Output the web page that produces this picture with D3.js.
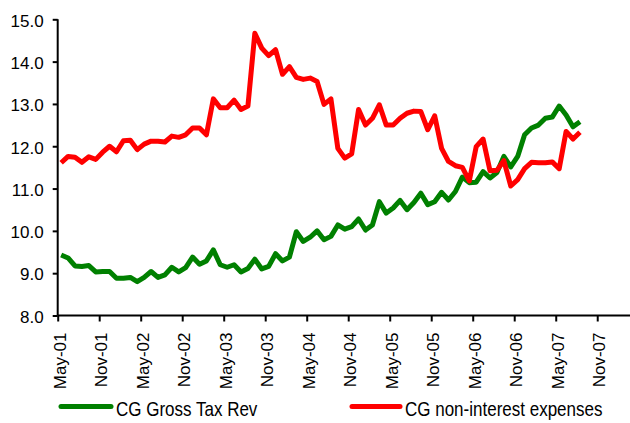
<!DOCTYPE html>
<html>
<head>
<meta charset="utf-8">
<script src="https://cdn.jsdelivr.net/npm/d3@7"></script>
<style>
  html, body { margin: 0; padding: 0; background: #fff; }
  svg { display: block; }
  text { font-family: "Liberation Sans", Arial, sans-serif; fill: #000; }
</style>
</head>
<body>
<svg id="chart" width="630" height="423"></svg>
<script>
// Monthly series, May-01 through Aug-07 (% of GDP, 12-month rolling)
const startMonth = new Date(2001, 4, 1);
const taxRev = [
  9.43, 9.36, 9.17, 9.16, 9.18, 9.03, 9.04, 9.04, 8.88, 8.88, 8.90, 8.80,
  8.90, 9.04, 8.90, 8.96, 9.14, 9.03, 9.13, 9.38, 9.21, 9.29, 9.55, 9.20,
  9.14, 9.20, 9.03, 9.11, 9.33, 9.10, 9.16, 9.46, 9.29, 9.38, 9.98, 9.75,
  9.85, 10.00, 9.79, 9.87, 10.14, 10.04, 10.10, 10.28, 10.02, 10.14, 10.69, 10.42,
  10.54, 10.72, 10.50, 10.67, 10.89, 10.62, 10.69, 10.91, 10.73, 10.93, 11.27, 11.14,
  11.15, 11.40, 11.25, 11.38, 11.76, 11.51, 11.76, 12.27, 12.43, 12.50, 12.66, 12.69,
  12.95, 12.74, 12.46, 12.58
];
const nonIntExp = [
  11.61, 11.76, 11.74, 11.62, 11.75, 11.69, 11.86, 12.00, 11.87, 12.13, 12.14, 11.92,
  12.05, 12.12, 12.12, 12.10, 12.24, 12.21, 12.27, 12.43, 12.43, 12.27, 13.12, 12.91,
  12.91, 13.09, 12.87, 12.95, 14.67, 14.32, 14.14, 14.28, 13.70, 13.88, 13.63, 13.58,
  13.61, 13.53, 12.99, 13.12, 11.95, 11.72, 11.82, 12.87, 12.50, 12.66, 12.98, 12.50,
  12.50, 12.66, 12.78, 12.83, 12.82, 12.39, 12.72, 11.95, 11.64, 11.54, 11.50, 11.18,
  11.99, 12.17, 11.42, 11.43, 11.66, 11.06, 11.21, 11.47, 11.62, 11.61, 11.61, 11.63,
  11.47, 12.35, 12.17, 12.33
];
const months = d3.timeMonth.range(startMonth, d3.timeMonth.offset(startMonth, taxRev.length));
const xTickLabels = ["May-01","Nov-01","May-02","Nov-02","May-03","Nov-03","May-04",
                     "Nov-04","May-05","Nov-05","May-06","Nov-06","May-07","Nov-07"];
const yTicks = [8, 9, 10, 11, 12, 13, 14, 15];
const seriesNames = ["CG Gross Tax Rev", "CG non-interest expenses"];
const seriesColors = ["#008000", "#ff0000"];

const svg = d3.select("#chart");
const plotLeft = 57.7, plotBottom = 315.5, plotTop = 19.3;
const monthW = 6.917;

// month index scale; points sit in the middle of each month
const x = d3.scaleLinear().domain([0, 78]).range([plotLeft, plotLeft + 78 * monthW]);
const y = d3.scaleLinear().domain([8, 15]).range([plotBottom, plotTop]);

// Y axis
const yAxis = d3.axisLeft(y).tickValues(yTicks).tickFormat(d3.format(".1f"))
  .tickSize(5).tickPadding(9);
const gy = svg.append("g").attr("transform", `translate(${plotLeft},0)`).call(yAxis);
gy.select(".domain").attr("stroke", "#000").attr("stroke-width", 2)
  .attr("d", `M0,${plotTop}V${plotBottom}`);
gy.selectAll(".tick line").attr("stroke", "#000").attr("stroke-width", 2);
gy.selectAll(".tick text").style("font-size", "17px").attr("fill", "#000")
  .attr("dy", "0.4em");

// X axis
const xAxis = d3.axisBottom(x).tickValues(d3.range(0, 79, 6))
  .tickFormat((d, i) => xTickLabels[i]).tickSize(6).tickPadding(8);
const gx = svg.append("g").attr("transform", `translate(0,${plotBottom})`).call(xAxis);
gx.select(".domain").attr("stroke", "#000").attr("stroke-width", 2)
  .attr("d", `M${plotLeft},0H632`);
gx.selectAll(".tick line").attr("stroke", "#000").attr("stroke-width", 2);
gx.selectAll(".tick text")
  .style("font-size", "17px").attr("fill", "#000")
  .attr("text-anchor", "end")
  .attr("transform", "rotate(-90)")
  .attr("x", -17).attr("y", 0).attr("dy", "0.45em");

// Lines
const line = d3.line().x((d, i) => x(i + 0.5)).y(d => y(d)).curve(d3.curveLinear);
[taxRev, nonIntExp].forEach((s, k) => {
  svg.append("path").datum(s)
    .attr("fill", "none")
    .attr("stroke", seriesColors[k])
    .attr("stroke-width", 5)
    .attr("stroke-linejoin", "round")
    .attr("d", line);
});

// Legend
const legendItems = [
  { x1: 61, x2: 111, tx: 116 },
  { x1: 352, x2: 400, tx: 405 }
];
legendItems.forEach((it, k) => {
  const g = svg.append("g");
  g.append("line").attr("x1", it.x1).attr("x2", it.x2)
    .attr("y1", 406.5).attr("y2", 406.5)
    .attr("stroke", seriesColors[k]).attr("stroke-width", 5)
    .attr("stroke-linecap", "round");
  g.append("text")
    .attr("transform", `translate(${it.tx},416) scale(1,1.16)`)
    .style("font-size", "17px")
    .text(seriesNames[k]);
});
</script>
</body>
</html>
